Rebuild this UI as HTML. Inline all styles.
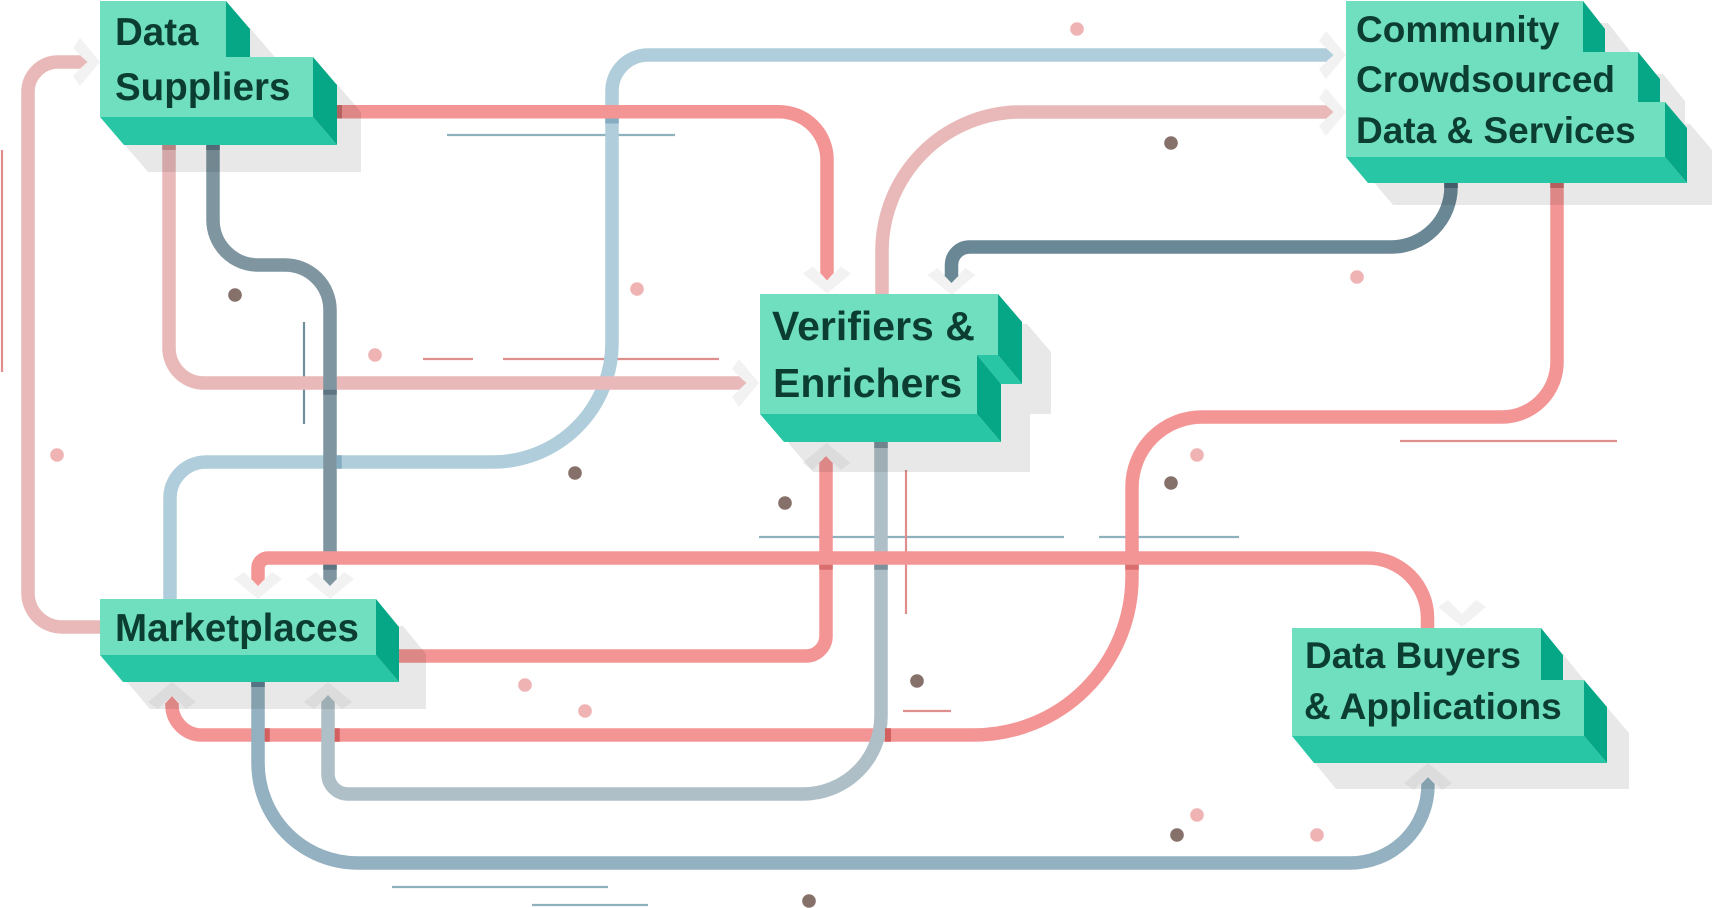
<!DOCTYPE html>
<html><head><meta charset="utf-8">
<style>
html,body{margin:0;padding:0;background:#fff;}
svg{display:block;}
text{font-family:"Liberation Sans",sans-serif;font-weight:bold;fill:#0b3d31;}
</style></head><body>
<svg width="1714" height="908" viewBox="0 0 1714 908" xmlns="http://www.w3.org/2000/svg">
<rect width="1714" height="908" fill="#fff"/>

<!-- chevrons -->
<g fill="#f2f2f2">
<polygon points="803,273.5 813,266.5 827,280.5 841,266.5 851,273.5 827,293.5"/>
<polygon points="927.5,275 937.5,268 951.5,282 965.5,268 975.5,275 951.5,295"/>
<polygon points="234,579 244,572 258,586 272,572 282,579 258,599"/>
<polygon points="306,579 316,572 330,586 344,572 354,579 330,599"/>
<polygon points="1438,607 1448,600 1462,614 1476,600 1486,607 1462,627"/>
<polygon points="802.5,463 812.5,470 826.5,456 840.5,470 850.5,463 826.5,443"/>
<polygon points="148,702 158,709 172,695 186,709 196,702 172,682"/>
<polygon points="304,702 314,709 328,695 342,709 352,702 328,682"/>
<polygon points="1404,783 1414,790 1428,776 1442,790 1452,783 1428,763"/>
<polygon points="80,38 73,48 87,62 73,76 80,86 100,62"/>
<polygon points="739,359 732,369 746,383 732,397 739,407 759,383"/>
<polygon points="1326,31 1319,41 1333,55 1319,69 1326,79 1346,55"/>
<polygon points="1326,88 1319,98 1333,112 1319,126 1326,136 1346,112"/>
</g>

<!-- thin decorative lines -->
<g stroke-width="2.2" fill="none">
<line x1="447" y1="135" x2="675" y2="135" stroke="#8fb0bd"/>
<line x1="2" y1="150" x2="2" y2="372" stroke="#df8e8e"/>
<line x1="304" y1="322" x2="304" y2="424" stroke="#6f8d9a"/>
<line x1="423" y1="359" x2="473" y2="359" stroke="#df8e8e"/>
<line x1="503" y1="359" x2="719" y2="359" stroke="#df8e8e"/>
<line x1="759" y1="537" x2="1064" y2="537" stroke="#8fb0bd"/>
<line x1="1099" y1="537" x2="1239" y2="537" stroke="#8fb0bd"/>
<line x1="906" y1="470" x2="906" y2="614" stroke="#df8e8e"/>
<line x1="903" y1="711" x2="951" y2="711" stroke="#df8e8e"/>
<line x1="1400" y1="441" x2="1617" y2="441" stroke="#df8e8e"/>
<line x1="392" y1="887" x2="608" y2="887" stroke="#8fb0bd"/>
<line x1="532" y1="905" x2="648" y2="905" stroke="#8fb0bd"/>
</g>

<!-- connectors -->
<g fill="none" stroke-width="13.5" stroke-linecap="butt">
<path d="M 1557 183 V 362 A 55 55 0 0 1 1502 417 H 1202 A 70 70 0 0 0 1132 487 V 577 A 158 158 0 0 1 974 735 H 202 A 30 30 0 0 1 172 705 V 703" stroke="#f39595"/>
<path d="M 170 599 V 498 A 36 36 0 0 1 206 462 H 493 A 119 119 0 0 0 612 343 V 91 A 36 36 0 0 1 648 55 H 1326.5" stroke="#afcdda"/>
<path d="M 169 145 V 348 A 35 35 0 0 0 204 383 H 739.5" stroke="#e9b9b9"/>
<path d="M 337 111.7 H 779 A 48 48 0 0 1 827 159.7 V 273.5" stroke="#f39595"/>
<path d="M 213 145 V 220 A 45 45 0 0 0 258 265 H 285 A 45 45 0 0 1 330 310 V 579.5" stroke="#7f95a0"/>
<path d="M 100 627 H 62 A 34 34 0 0 1 28 593 V 92 A 30 30 0 0 1 58 62 H 80.5" stroke="#e9b9b9"/>
<path d="M 882 294 V 251 A 139 139 0 0 1 1021 112 H 1326.5" stroke="#e9b9b9"/>
<path d="M 1451 183 V 187 A 60 60 0 0 1 1391 247 H 969.5 A 18 18 0 0 0 951.5 265 V 276.5" stroke="#6a8795"/>
<path d="M 881 442 V 716 A 78 78 0 0 1 803 794 H 348 A 20 20 0 0 1 328 774 V 701.5" stroke="#afbfc7"/>
<path d="M 258 682 V 763 A 100 100 0 0 0 358 863 H 1350 A 78 78 0 0 0 1428 785 V 783.5" stroke="#93b1c0"/>
<path d="M 399 656 H 806 A 20 20 0 0 0 826 636 V 462.5" stroke="#f39595"/>
<path d="M 1427.5 628 V 618 A 60 60 0 0 0 1367.5 558 H 268 A 10 10 0 0 0 258 568 V 579.5" stroke="#f39595"/>
</g>

<!-- arrow tips -->
<polygon points="820.25,273 827,280.5 833.75,273" fill="#f39595"/>
<polygon points="944.75,276 951.5,283 958.25,276" fill="#6a8795"/>
<polygon points="251.25,579 258,586 264.75,579" fill="#f39595"/>
<polygon points="323.25,579 330,586 336.75,579" fill="#7f95a0"/>
<polygon points="819.25,463 826,456 832.75,463" fill="#f39595"/>
<polygon points="165.25,703.5 172,696 178.75,703.5" fill="#f39595"/>
<polygon points="321.25,702 328,695 334.75,702" fill="#afbfc7"/>
<polygon points="1421.25,784 1428,777 1434.75,784" fill="#93b1c0"/>
<polygon points="80,55.25 87.5,62 80,68.75" fill="#e9b9b9"/>
<polygon points="739,376.25 746.5,383 739,389.75" fill="#e9b9b9"/>
<polygon points="1326,48.25 1333.5,55 1326,61.75" fill="#afcdda"/>
<polygon points="1326,105.25 1333.5,112 1326,118.75" fill="#e9b9b9"/>

<!-- bands -->
<rect x="337" y="105" width="5" height="13.5" fill="#c96b6b"/>
<rect x="206.25" y="145" width="13.5" height="5" fill="#5d7482"/>
<rect x="162.25" y="145" width="13.5" height="5" fill="#c98f8f"/>
<rect x="1444.25" y="183" width="13.5" height="5" fill="#4e6674"/>
<rect x="1550.25" y="183" width="13.5" height="5" fill="#c96b6b"/>
<rect x="874.25" y="442" width="13.5" height="6" fill="#7d919c"/>
<rect x="251.25" y="682" width="13.5" height="5" fill="#5f7f90"/>
<rect x="605.25" y="118.5" width="13.5" height="5" fill="#86acc2"/>
<rect x="336.75" y="455.25" width="5" height="13.5" fill="#86acc2"/>
<rect x="323.25" y="389.75" width="13.5" height="5" fill="#5d7482"/>
<rect x="323.25" y="564.75" width="13.5" height="5" fill="#5d7482"/>
<rect x="819.25" y="564.75" width="13.5" height="5" fill="#d86e6e"/>
<rect x="874.25" y="564.75" width="13.5" height="5" fill="#7d919c"/>
<rect x="1125.25" y="564.75" width="13.5" height="5" fill="#d86e6e"/>
<rect x="264.75" y="728.25" width="5" height="13.5" fill="#d45f5f"/>
<rect x="334.75" y="728.25" width="5" height="13.5" fill="#d45f5f"/>
<rect x="885" y="728.25" width="6" height="13.5" fill="#d45f5f"/>

<!-- dots -->
<g fill="#85706a">
<circle cx="235" cy="295" r="6.8"/>
<circle cx="1171" cy="143" r="6.8"/>
<circle cx="575" cy="473" r="6.8"/>
<circle cx="785" cy="503" r="6.8"/>
<circle cx="917" cy="681" r="6.8"/>
<circle cx="1171" cy="483" r="6.8"/>
<circle cx="1177" cy="835" r="6.8"/>
<circle cx="809" cy="901" r="6.8"/>
</g>
<g fill="#efb3b3">
<circle cx="375" cy="355" r="6.8"/>
<circle cx="57" cy="455" r="6.8"/>
<circle cx="1077" cy="29" r="6.8"/>
<circle cx="637" cy="289" r="6.8"/>
<circle cx="1357" cy="277" r="6.8"/>
<circle cx="525" cy="685" r="6.8"/>
<circle cx="585" cy="711" r="6.8"/>
<circle cx="1197" cy="455" r="6.8"/>
<circle cx="1197" cy="815" r="6.8"/>
<circle cx="1317" cy="835" r="6.8"/>
</g>

<!-- shadows -->
<g fill="#000" fill-opacity="0.09">
<polygon points="124,28 250,28 274,56 274,84 337,84 361,112 361,172 148,172 124,144"/>
<polygon points="789,324 1027,324 1051,352 1051,414 1030,414 1030,472 813,472 789,444"/>
<polygon points="1371,23 1608,23 1630,51 1630,74 1663,74 1685,101 1685,124 1690,124 1712,150 1712,205 1393,205 1371,179"/>
<polygon points="127,626 403,626 426,654 426,709 150,709 127,682"/>
<polygon points="1314,654 1563,654 1585,681 1585,706 1606,706 1629,733 1629,789 1336,789 1314,762"/>
</g>

<!-- Data Suppliers -->
<polygon points="100,1 226,1 226,57 313,57 313,117 100,117" fill="#70dfc0"/>
<polygon points="226,1 250,29 250,57 226,57" fill="#06a786"/>
<polygon points="313,57 337,85 337,145 313,117" fill="#06a786"/>
<polygon points="100,117 313,117 337,145 124,145" fill="#29c6a5"/>
<text x="115" y="45" font-size="38.5">Data</text>
<text x="115" y="100" font-size="38.5">Suppliers</text>

<!-- Verifiers & Enrichers -->
<polygon points="760,294 998,294 998,355 977,355 977,414 760,414" fill="#70dfc0"/>
<polygon points="998,294 1022,322 1022,384 998,355" fill="#06a786"/>
<polygon points="977,355 998,355 1022,384 1001,384" fill="#29c6a5"/>
<polygon points="977,355 1001,384 1001,442 977,414" fill="#06a786"/>
<polygon points="760,414 977,414 1001,442 784,442" fill="#29c6a5"/>
<text x="772" y="340" font-size="41">Verifiers &amp;</text>
<text x="773" y="397" font-size="41">Enrichers</text>

<!-- Community -->
<polygon points="1346,1 1583,1 1583,52 1638,52 1638,102 1665,102 1665,157 1346,157" fill="#70dfc0"/>
<polygon points="1583,1 1605,29 1605,52 1583,52" fill="#06a786"/>
<polygon points="1638,52 1660,79 1660,102 1638,102" fill="#06a786"/>
<polygon points="1665,102 1687,128 1687,183 1665,157" fill="#06a786"/>
<polygon points="1346,157 1665,157 1687,183 1368,183" fill="#29c6a5"/>
<text x="1356" y="42" font-size="37">Community</text>
<text x="1356" y="92" font-size="37">Crowdsourced</text>
<text x="1356" y="143" font-size="37">Data &amp; Services</text>

<!-- Marketplaces -->
<polygon points="100,599 376,599 376,655 100,655" fill="#70dfc0"/>
<polygon points="376,599 399,627 399,682 376,655" fill="#06a786"/>
<polygon points="100,655 376,655 399,682 123,682" fill="#29c6a5"/>
<text x="115" y="641" font-size="38.5">Marketplaces</text>

<!-- Data Buyers -->
<polygon points="1292,628 1541,628 1541,680 1584,680 1584,736 1292,736" fill="#70dfc0"/>
<polygon points="1541,628 1563,655 1563,680 1541,680" fill="#06a786"/>
<polygon points="1584,680 1607,707 1607,763 1584,736" fill="#06a786"/>
<polygon points="1292,736 1584,736 1607,763 1314,763" fill="#29c6a5"/>
<text x="1305" y="668" font-size="37">Data Buyers</text>
<text x="1304" y="719" font-size="37">&amp; Applications</text>
</svg>
</body></html>
